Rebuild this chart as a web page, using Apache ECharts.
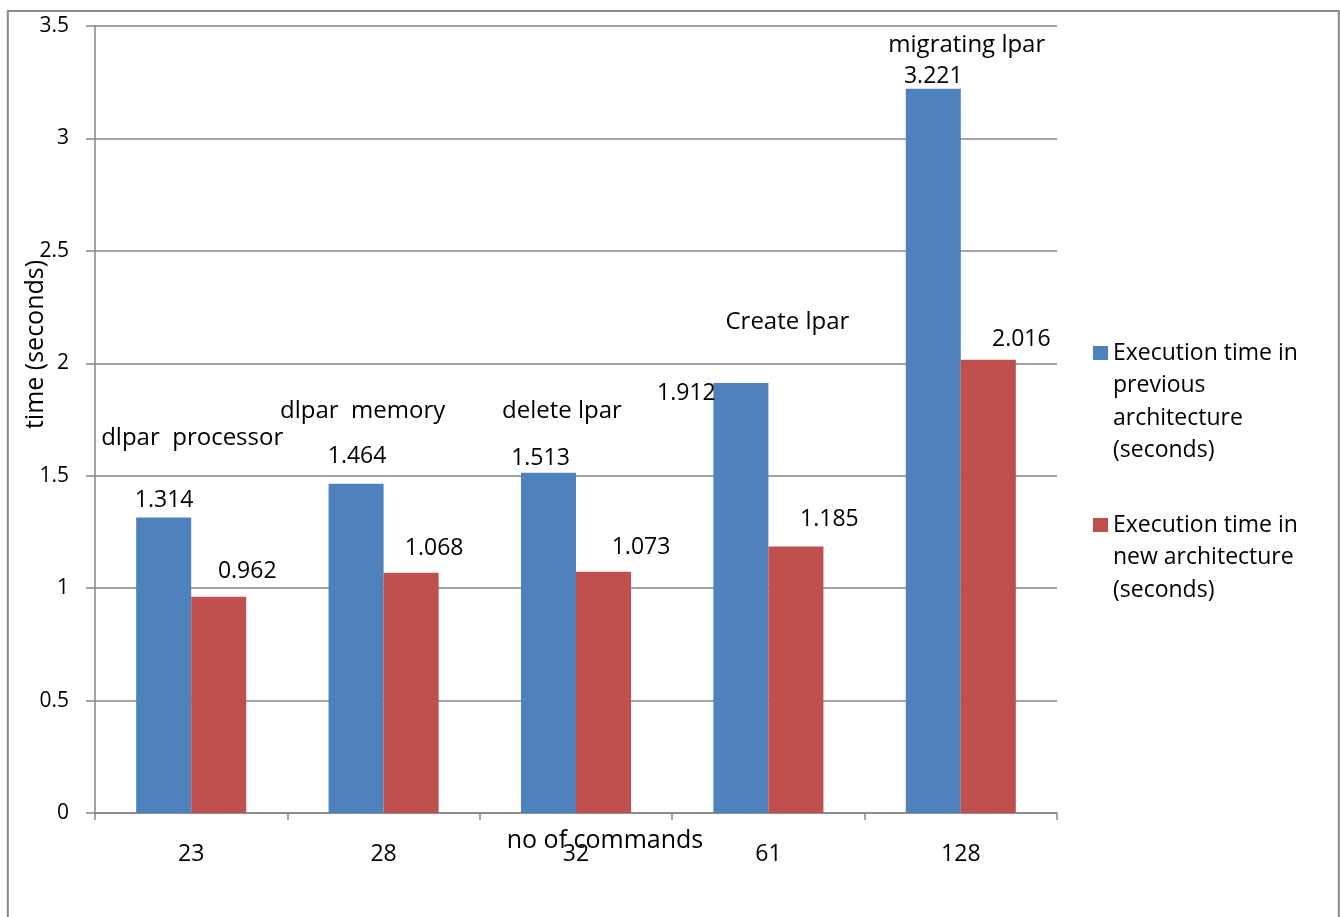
<!DOCTYPE html>
<html>
<head>
<meta charset="utf-8">
<script src="https://cdn.jsdelivr.net/npm/echarts@6/dist/echarts.min.js"></script>
<style>
  html, body { margin: 0; padding: 0; background: #fff; }
  #chart { width: 1340px; height: 917px; }
</style>
</head>
<body>
<div id="chart"></div>
<script>
// ---- data ----
const categories = ['23', '28', '32', '61', '128'];
const previousTimes = [1.314, 1.464, 1.513, 1.912, 3.221];
const newTimes = [0.962, 1.068, 1.073, 1.185, 2.016];
const commandNames = ['dlpar  processor', 'dlpar  memory', 'delete lpar', 'Create lpar', 'migrating lpar'];
const seriesNames = [
  'Execution time in previous architecture (seconds)',
  'Execution time in new architecture (seconds)'
];
const legendLines = [
  ['Execution time in', 'previous', 'architecture', '(seconds)'],
  ['Execution time in', 'new architecture', '(seconds)']
];
const yAxisName = 'time (seconds)';
const xAxisName = 'no of commands';
const yMin = 0, yMax = 3.5, yStep = 0.5;

// ---- layout: label shifts (px, relative to the bar top centre) ----
const previousLabelShift = [[0.5, -17], [1, -27], [-8, -14.5], [-54.5, 10], [0, -12.5]];
const newLabelShift = [[28.5, -25], [23, -24.5], [37.5, -24], [33.5, -27], [33, -20]];
// command-name captions: [px shift from category centre, height in axis units]
const commandNameAnchor = [[1, 1.665], [-21, 1.785], [-14, 1.785], [19, 2.185], [6, 3.415]];

const FONT = 'Open Sans';
const GREY = '#868686';
const LABEL_LH = 24;
const LEGEND_LH = 32.5;

function barData(values, shifts) {
  return values.map((v, i) => ({
    value: v,
    label: { offset: [shifts[i][0], shifts[i][1] + LABEL_LH / 2] }
  }));
}

const valueLabel = {
  show: true,
  position: 'top',
  distance: 0,
  color: '#000',
  fontFamily: FONT,
  fontSize: 23,
  lineHeight: LABEL_LH,
  formatter: p => p.value.toFixed(3)
};

// Each legend entry is its own component so the swatch sits beside the
// first line of a wrapped name: leading blank lines keep that first line
// on the swatch's centre line.
function legendFor(idx, swatchCentreY) {
  const lines = legendLines[idx];
  const n = lines.length;
  const blank = new Array(n - 1).fill('').join('\n') + (n > 1 ? '\n' : '');
  const total = 2 * n - 1;
  return {
    data: [seriesNames[idx]],
    left: 1093,
    top: swatchCentreY - total * LEGEND_LH / 2,
    padding: 0,
    orient: 'vertical',
    icon: 'rect',
    itemWidth: 15,
    itemHeight: 14,
    selectedMode: false,
    formatter: () => blank + lines.join('\n'),
    textStyle: {
      fontFamily: FONT,
      fontSize: 23,
      color: '#000',
      lineHeight: LEGEND_LH
    }
  };
}

const chart = echarts.init(document.getElementById('chart'), null, { renderer: 'canvas' });

chart.setOption({
  animation: false,
  backgroundColor: '#fff',
  grid: { left: 95, right: 283, top: 26, bottom: 104, containLabel: false },
  legend: [
    legendFor(0, 353),
    legendFor(1, 525)
  ],
  xAxis: {
    type: 'category',
    data: categories,
    name: xAxisName,
    nameLocation: 'middle',
    nameGap: 16,
    nameMoveOverlap: false,
    nameTextStyle: { fontFamily: FONT, fontSize: 25, color: '#000', lineHeight: 24, padding: [0, 0, 0, 58] },
    axisLine: { lineStyle: { color: GREY, width: 1.5 } },
    axisTick: { show: true, length: 7, lineStyle: { color: GREY, width: 1.5 } },
    axisLabel: { fontFamily: FONT, fontSize: 23, color: '#000', margin: 29, lineHeight: 24 }
  },
  yAxis: {
    type: 'value',
    min: yMin,
    max: yMax,
    interval: yStep,
    name: yAxisName,
    nameLocation: 'middle',
    nameGap: 46,
    nameMoveOverlap: false,
    nameTextStyle: { fontFamily: FONT, fontSize: 25, color: '#000', lineHeight: 26, padding: [0, 0, 0, 150] },
    axisLine: { show: true, lineStyle: { color: GREY, width: 1.5 } },
    axisTick: { show: true, length: 9, lineStyle: { color: GREY, width: 1.5 } },
    splitLine: { show: true, lineStyle: { color: GREY, width: 1.5 } },
    axisLabel: { fontFamily: FONT, fontSize: 21, color: '#000', margin: 26 }
  },
  series: [
    {
      name: seriesNames[0],
      type: 'bar',
      barGap: 0,
      barCategoryGap: '42.8%',
      itemStyle: { color: '#4F81BD' },
      label: valueLabel,
      data: barData(previousTimes, previousLabelShift)
    },
    {
      name: seriesNames[1],
      type: 'bar',
      barGap: 0,
      barCategoryGap: '42.8%',
      itemStyle: { color: '#C0504D' },
      label: valueLabel,
      data: barData(newTimes, newLabelShift)
    }
  ]
});

// Command-name captions placed through the chart's own coordinate system,
// plus the outer frame of the chart area.
const captions = commandNames.map((txt, i) => {
  const pt = chart.convertToPixel({ xAxisIndex: 0, yAxisIndex: 0 }, [categories[i], commandNameAnchor[i][1]]);
  return {
    type: 'text',
    x: pt[0] + commandNameAnchor[i][0],
    y: pt[1],
    style: {
      text: txt,
      fill: '#000',
      font: '24px "' + FONT + '"',
      align: 'center',
      verticalAlign: 'middle'
    },
    z: 10
  };
});

chart.setOption({
  graphic: [
    {
      type: 'rect',
      shape: { x: 7.8, y: 11, width: 1331, height: 940 },
      style: { fill: 'none', stroke: '#8a8a8a', lineWidth: 2 },
      silent: true,
      z: 0
    }
  ].concat(captions)
});
</script>
</body>
</html>
